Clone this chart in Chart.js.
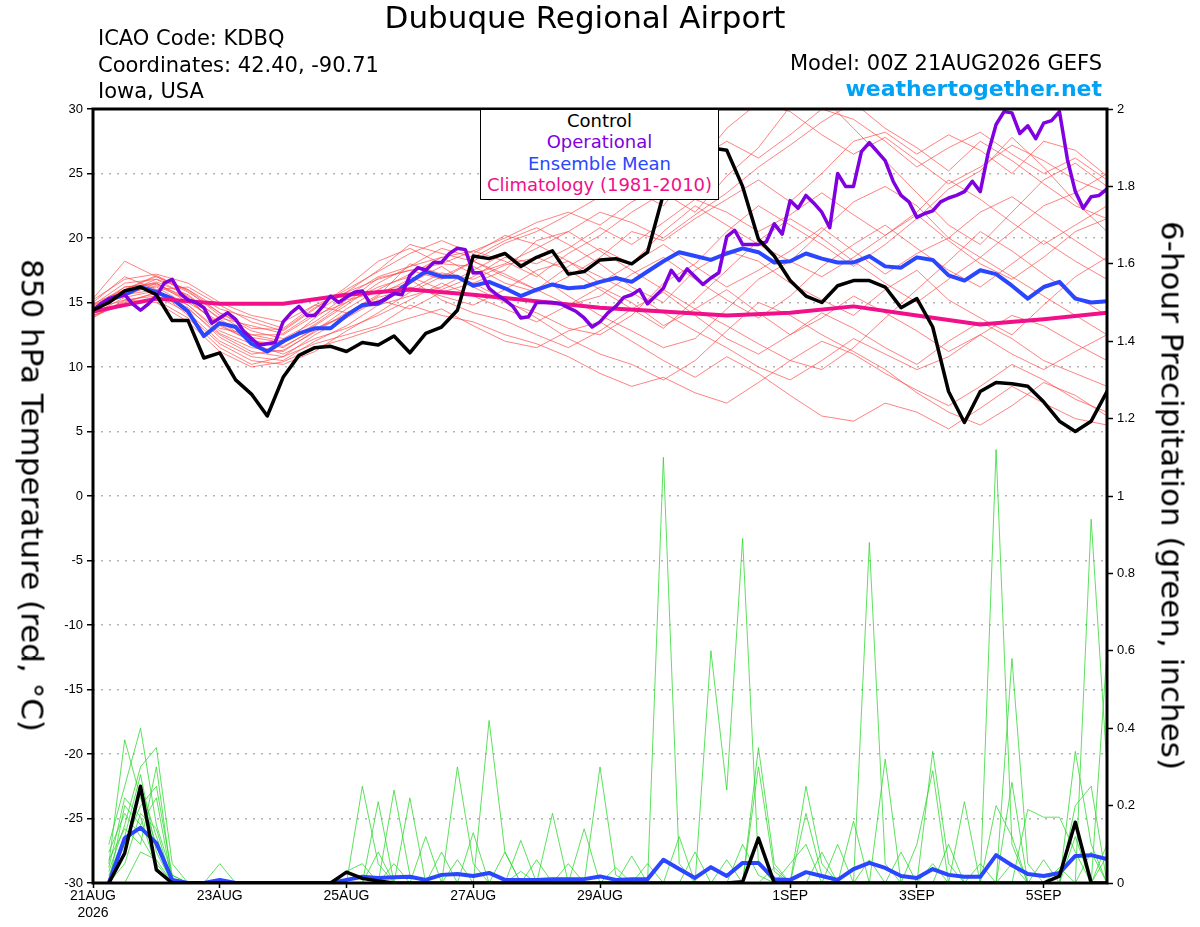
<!DOCTYPE html>
<html>
<head>
<meta charset="utf-8">
<title>Dubuque Regional Airport</title>
<script src="https://cdn.jsdelivr.net/npm/chart.js@4.4.1/dist/chart.umd.min.js"></script>
<style>
  body { margin: 0; background: #fff; }
  #wrap { position: relative; width: 1200px; height: 927px; overflow: hidden; }
  #wrap canvas { position: absolute; left: 0; top: 0; }
  .txt { position: absolute; font-family: "DejaVu Sans", sans-serif; line-height: 1; white-space: nowrap; color: #000; }
  #legendBox { position: absolute; left: 480px; top: 109px; width: 239px; height: 91px; box-sizing: border-box;
               border: 1.5px solid #000; background: #fff; }
  #legendBox div { position: absolute; left: 0; width: 100%; text-align: center; font-family: "DejaVu Sans", sans-serif;
                   font-size: 18px; line-height: 1; white-space: nowrap; }
  .vtitle { position: absolute; width: 700px; height: 31px; font-family: "DejaVu Sans", sans-serif; font-size: 31px;
            line-height: 31px; text-align: center; white-space: nowrap; transform: rotate(90deg); transform-origin: 50% 50%; }
</style>
</head>
<body>
<div id="wrap">
  <canvas id="meteogram" width="1200" height="927"></canvas>

  <div class="txt" style="left:0;width:1170px;text-align:center;top:2px;font-size:31px;">Dubuque Regional Airport</div>
  <div class="txt" style="left:98px;top:28px;font-size:21px;">ICAO Code: KDBQ</div>
  <div class="txt" style="left:98px;top:55px;font-size:21px;">Coordinates: 42.40, -90.71</div>
  <div class="txt" style="left:98px;top:81px;font-size:21px;">Iowa, USA</div>
  <div class="txt" style="right:98px;top:53px;font-size:21px;">Model: 00Z 21AUG2026 GEFS</div>
  <div class="txt" style="right:98px;top:78px;font-size:22px;font-weight:bold;color:#00a2f5;">weathertogether.net</div>

  <div id="legendBox">
    <div style="top:1.5px;color:#000;">Control</div>
    <div style="top:22.5px;color:#8000e0;">Operational</div>
    <div style="top:44.5px;color:#2a46ff;">Ensemble Mean</div>
    <div style="top:65.5px;color:#f0108a;">Climatology (1981-2010)</div>
  </div>

  <div class="vtitle" style="left:-318px;top:480px;">850 hPa Temperature (red, °C)</div>
  <div class="vtitle" style="left:822px;top:480px;">6-hour Precipitation (green, inches)</div>
</div>

<script>
// axis ticks (hours since 00Z 21AUG2026)
const xTickHours = [0, 48, 96, 144, 192, 264, 312, 360];
const xTickLabels = [['21AUG', '2026'], '23AUG', '25AUG', '27AUG', '29AUG', '1SEP', '3SEP', '5SEP'];
const tempTicks = [-30, -25, -20, -15, -10, -5, 0, 5, 10, 15, 20, 25, 30];
const precipTicks = [0, 0.2, 0.4, 0.6, 0.8, 1, 1.2, 1.4, 1.6, 1.8, 2];

// 850 hPa temperature, 6-hourly
const controlTemp = [14.4, 15.0, 15.9, 16.2, 15.6, 13.6, 13.6, 10.7, 11.1, 9.0, 7.9, 6.2, 9.2, 10.9, 11.5, 11.6, 11.2,
  11.9, 11.7, 12.4, 11.1, 12.6, 13.1, 14.4, 18.6, 18.4, 18.8, 17.8, 18.5, 19.0, 17.2, 17.4, 18.3, 18.4,
  18.0, 18.9, 23.4, 25.8, 27.3, 27.0, 26.8, 24.0, 19.9, 18.6, 16.7, 15.5, 15.0, 16.3, 16.7,
  16.7, 16.2, 14.6, 15.3, 13.1, 8.1, 5.7, 8.1, 8.8, 8.7, 8.5, 7.3, 5.8, 5.0, 5.8, 8.1];
const meanTemp = [14.4, 15.2, 15.6, 16.2, 15.8, 15.3, 14.3, 12.4, 13.4, 13.1, 11.8, 11.2, 12.0, 12.6, 13.0, 13.0, 14.0,
  14.8, 14.9, 15.7, 16.6, 17.4, 17.0, 17.0, 16.3, 16.6, 16.1, 15.5, 16.0, 16.4, 16.1, 16.2, 16.6, 16.9,
  16.6, 17.4, 18.2, 18.9, 18.6, 18.3, 18.8, 19.2, 18.9, 18.1, 18.2, 18.8, 18.4, 18.1, 18.1,
  18.6, 17.8, 17.7, 18.5, 18.3, 17.1, 16.7, 17.5, 17.2, 16.3, 15.3, 16.2, 16.6, 15.3, 15.0, 15.1];
// operational run, 3-hourly
const operTemp = [14.4, 14.9, 15.3, 15.5, 15.6, 14.9, 14.4, 14.9, 15.5, 16.5,
  16.8, 15.7, 15.2, 15.0, 14.6, 13.4, 13.8, 14.2, 13.7, 12.8,
  12.2, 11.7, 11.8, 11.9, 13.5, 14.2, 14.7, 14.0, 14.0, 14.7,
  15.5, 15.0, 15.4, 15.8, 15.9, 14.9, 15.0, 15.3, 15.7, 15.6,
  17.1, 17.7, 17.5, 18.1, 18.1, 18.8, 19.2, 19.1, 17.3, 17.3,
  16.1, 15.6, 15.2, 14.7, 13.8, 13.9, 15.0, 15.0, 15.0, 14.9,
  14.6, 14.3, 13.8, 13.1, 13.5, 14.2, 14.7, 15.4, 15.6, 16.0,
  14.9, 15.5, 16.1, 17.5, 16.7, 17.6, 17.0, 16.4, 16.9, 17.3,
  20.1, 20.6, 19.5, 19.5, 19.5, 19.7, 21.1, 20.3, 22.9, 22.3,
  23.3, 22.7, 22.0, 20.8, 25.0, 24.0, 24.0, 26.7, 27.4, 26.7,
  26.0, 24.4, 23.3, 22.8, 21.6, 21.9, 22.1, 22.8, 23.1, 23.3,
  23.6, 24.4, 23.6, 26.6, 28.8, 29.8, 29.7, 28.1, 28.7, 27.7,
  28.9, 29.1, 29.8, 26.1, 23.6, 22.3, 23.2, 23.3, 23.8];
// climatology, daily
const climTemp = [14.3, 15.3, 14.9, 14.9, 15.6, 16.0, 15.6, 15.1, 14.6, 14.3, 14.0, 14.2, 14.7, 14.0, 13.3, 13.7, 14.2];

// ensemble members, 12-hourly
const t01 = [14.8,16.5,16.8,15.5,13.8,13.2,12.6,14.2,15.8,17.5,19.5,18.8,18.2,19.6,20.5,21.8,23.2,23.8,22.5,25.5,28.5,30.5,29.8,28.0,26.5,27.8,26.0,24.2,25.5,27.2,26.0,24.5,23.5];
const t02 = [14.2,15.8,16.2,14.8,12.6,11.5,11.2,12.8,14.5,16.0,17.2,18.5,19.0,18.2,17.0,18.8,20.2,22.0,23.5,22.0,24.8,27.0,30.2,31.0,28.5,26.0,23.5,21.0,19.5,22.0,24.5,25.8,24.0];
const t03 = [14.6,16.0,17.0,15.8,14.2,12.8,12.2,13.5,15.2,15.8,16.5,17.8,16.2,15.0,14.2,13.0,12.5,14.0,16.5,18.0,20.5,22.5,21.0,19.5,17.8,19.5,21.5,23.8,25.2,27.8,25.5,22.8,20.5];
const t04 = [13.8,15.2,15.5,14.2,12.0,10.8,10.5,12.0,13.2,14.8,15.5,16.2,17.5,18.8,17.2,15.5,14.0,12.8,11.5,12.2,14.5,16.8,18.2,20.5,22.8,24.0,22.5,20.0,18.5,17.0,15.5,14.0,12.5];
const t05 = [14.5,15.5,16.5,15.0,13.5,12.0,11.5,13.0,14.0,15.5,18.0,17.2,16.5,17.5,19.8,20.5,19.0,17.5,16.0,14.5,13.2,11.8,10.5,9.8,11.5,13.8,16.0,18.2,20.5,19.0,17.2,15.5,14.0];
const t06 = [15.0,17.0,16.0,16.2,14.8,13.5,12.8,14.5,16.2,18.2,19.2,18.0,17.8,16.5,15.8,17.0,18.5,20.5,19.8,21.5,23.0,24.5,22.8,25.0,27.5,28.2,26.5,28.0,26.8,25.0,27.5,26.8,24.8];
const t07 = [14.0,15.0,15.8,14.5,12.5,11.2,10.8,11.8,12.5,13.2,14.8,14.0,13.5,12.5,11.8,10.8,9.5,8.5,9.2,8.0,7.2,8.8,10.5,12.0,11.0,9.5,8.2,7.0,8.5,10.2,9.0,7.5,6.5];
const t08 = [14.4,16.2,16.5,15.2,13.2,12.0,11.8,13.8,15.5,17.0,17.8,19.2,18.5,19.8,20.8,19.5,18.0,16.2,15.0,17.5,19.0,18.2,16.5,15.2,14.0,16.0,17.5,15.2,13.8,12.5,14.8,17.0,18.5];
const t09 = [14.8,15.8,16.8,16.0,14.5,13.8,13.0,14.8,14.2,15.0,16.2,15.5,14.8,16.0,17.5,18.2,17.0,15.8,14.2,12.8,11.5,10.0,9.0,10.5,12.2,11.0,9.8,10.8,12.5,14.0,13.2,11.8,10.5];
const t10 = [14.3,15.6,16.0,14.0,11.8,10.5,10.2,11.2,12.8,14.2,15.8,17.0,18.2,17.0,16.0,17.8,19.2,18.0,20.5,22.5,21.0,19.5,18.2,17.0,18.5,20.2,21.8,19.8,18.0,16.8,18.5,20.5,21.5];
const t11 = [15.2,16.8,17.2,16.5,15.0,14.0,13.5,14.8,15.8,16.8,17.5,16.8,18.2,17.2,16.0,14.8,15.5,17.2,18.5,16.8,15.2,13.8,15.5,17.8,19.5,21.0,19.2,17.5,16.2,18.0,19.8,18.2,16.8];
const t12 = [14.0,14.8,15.2,13.8,11.5,10.2,10.8,12.5,13.8,15.2,14.5,15.8,16.5,15.2,13.8,12.2,11.0,10.2,9.0,10.5,12.8,15.0,14.0,12.5,11.2,9.8,8.0,6.5,5.5,7.0,8.8,7.8,6.2];
const t13 = [14.7,16.2,16.4,15.4,13.0,12.5,12.0,13.2,14.8,16.5,17.8,18.5,17.2,18.0,19.2,20.5,22.0,21.2,20.0,21.8,23.5,25.5,27.2,29.0,30.5,28.5,27.0,25.2,27.5,26.0,24.2,22.5,21.5];
const t14 = [14.1,15.4,15.9,14.8,12.8,11.8,11.0,12.2,13.0,14.0,15.2,16.5,15.5,14.5,13.5,14.8,16.2,15.0,13.2,14.5,16.0,14.2,12.5,13.8,15.5,14.2,12.8,11.2,12.5,11.0,9.8,11.2,12.5];
const t15 = [14.9,16.0,17.1,15.9,14.0,12.5,12.5,14.0,15.0,16.2,17.0,16.0,17.0,18.5,18.0,19.2,20.8,19.5,21.2,23.0,22.0,20.5,21.8,23.5,21.8,20.2,22.0,24.5,23.0,21.2,19.5,21.0,22.5];
const t16 = [14.5,15.2,15.0,13.5,11.2,10.0,10.4,11.5,12.2,13.0,13.8,14.5,13.2,12.0,11.5,12.8,13.5,12.0,10.5,9.2,10.8,9.5,7.8,6.2,5.8,7.2,6.5,5.2,6.8,8.5,7.2,6.0,5.5];
const t17 = [14.6,15.9,16.6,15.6,13.7,12.3,11.9,13.3,15.0,16.9,17.5,18.0,19.0,20.0,21.2,22.0,21.0,22.8,24.0,26.0,27.5,26.2,28.0,30.0,29.2,27.5,25.5,27.0,28.2,26.5,25.0,26.2,24.5];
const t18 = [13.9,15.1,15.7,14.6,12.3,11.0,11.3,12.7,14.2,15.6,16.8,15.2,14.2,13.6,12.5,11.5,12.8,14.5,15.8,14.0,12.2,11.0,12.5,14.2,13.0,11.5,10.2,12.0,13.5,12.2,10.5,9.5,8.5];
const t19 = [15.3,18.2,17.0,16.0,14.2,13.0,12.9,14.6,16.0,17.4,18.8,19.8,18.8,20.2,19.5,18.2,16.5,18.0,19.5,17.8,16.2,17.5,19.0,20.8,19.0,17.2,18.8,20.0,22.0,23.2,21.5,19.8,18.2];
const t20 = [14.4,15.7,16.3,15.2,13.3,12.0,11.6,12.9,14.0,15.4,16.0,17.3,16.8,17.9,18.5,17.5,16.0,14.5,13.0,15.2,17.5,19.8,21.5,20.0,18.2,16.5,15.0,16.8,18.5,20.5,22.5,23.5,25.0];
const tempMembers = [t01, t02, t03, t04, t05, t06, t07, t08, t09, t10, t11, t12, t13, t14, t15, t16, t17, t18, t19, t20];

// 6-hour precipitation (inches), 6-hourly, no value at hour 0
const controlPrecip = [null, 0,.077,.25,.034, 0,0,0,0, 0,0,0,0, 0,0,0,.028, .012,.005,0,0, 0,0,0,0, 0,0,0,0, 0,0,0,0,
  0,0,0,0, 0,0,0,0, .003,.116,0,0, 0,0,0,0, 0,0,0,0, 0,0,0,0, 0,0,0,0, .018,.157,0,0];
const meanPrecip = [null, 0,.116,.143,.103, .008,0,0,.008, 0,0,0,0, 0,0,0,.008, .016,.013,.015,.016, .008,.021,.023,.018,
  .026,.008,.008,.008, .01,.01,.01,.017, .008,.01,.01,.06, .036,.013,.041,.018, .052,.052,.01,.008, .028,.018,.008,.036,
  .052,.039,.018,.013, .036,.021,.016,.016, .072,.046,.023,.018, .026,.07,.072,.062];
const p01 = [null, .10,.25,.40,.15, .02,0,0,0, 0,0,0,0, 0,0,0,0, 0,.21,0,0, 0,0,0,0, 0,0,0,0, 0,0,0,0, 0,0,0,1.10, .05,0,0,0, 0,0,0,0, 0,0,0,0, 0,0,0,0, .05,0,0,0, 0,0,0,0, 0,.34,.10,0];
const p02 = [null, .05,.37,.22,.10, 0,0,0,0, 0,0,0,0, 0,0,0,0, 0,0,0,0, 0,0,.30,.05, 0,0,0,0, 0,0,0,0, 0,0,0,0, 0,0,.60,.24, .89,.05,0,0, 0,0,0,0, 0,0,0,0, 0,0,0,0, 0,.05,0,0, 0,0,0,0];
const p03 = [null, .03,.15,.30,.35, .05,0,0,0, 0,0,0,0, 0,0,0,0, .25,.05,0,0, 0,0,0,0, 0,0,0,0, 0,0,0,.30, .02,0,0,0, 0,0,0,0, 0,0,0,0, 0,0,0,0, .88,.05,0,0, 0,0,0,0, 0,0,0,0, 0,0,0,.60];
const p04 = [null, 0,.10,.20,.25, .02,0,0,0, 0,0,0,0, 0,0,0,0, 0,0,0,0, 0,0,0,0, .42,.08,0,0, 0,0,0,0, 0,0,0,0, 0,0,0,0, 0,.35,.05,0, 0,0,0,0, 0,0,0,0, 0,0,0,0, 1.12,.10,0,0, 0,0,0,0];
const p05 = [null, .02,.12,.28,.08, 0,0,0,.05, 0,0,0,0, 0,0,0,0, 0,0,.24,.02, 0,0,0,0, 0,0,0,0, .18,0,0,0, 0,0,0,0, 0,0,0,0, 0,0,0,0, .25,.05,0,0, 0,0,0,0, 0,0,0,0, 0,.58,.05,0, 0,0,0,0];
const p06 = [null, 0,.20,.15,.22, 0,0,0,0, 0,0,0,0, 0,0,0,0, 0,0,0,.22, 0,0,0,0, 0,0,.11,0, 0,0,0,0, 0,0,0,0, 0,0,0,0, 0,.30,.03,0, 0,0,0,0, 0,.32,0,0, 0,0,0,0, 0,0,0,0, 0,0,.94,.30];
const p07 = [null, .08,.18,.12,.05, 0,0,0,0, 0,0,0,0, 0,0,0,.03, .05,0,0,0, 0,0,0,.13, 0,0,0,0, 0,0,.14,0, 0,0,0,0, 0,0,0,0, 0,0,0,0, .18,.02,0,0, 0,0,0,0, .34,.05,0,0, 0,0,.19,.17, .17,.08,0,0];
const p08 = [null, 0,.08,.25,.12, 0,0,0,0, 0,0,0,0, 0,0,0,0, 0,0,0,0, 0,.08,0,0, 0,.08,0,0, 0,0,0,0, 0,0,.05,0, 0,0,0,0, .10,.02,0,0, 0,0,0,.16, 0,0,0,0, 0,0,.21,0, 0,0,0,0, 0,.20,.25,0];
const p09 = [null, .06,.14,.10,.30, 0,0,0,0, 0,0,0,0, 0,0,0,0, 0,0,0,0, .12,0,0,0, 0,0,0,0, 0,.05,0,0, 0,0,0,0, 0,.08,0,0, 0,0,0,0, 0,0,.10,0, 0,0,0,.10, .29,0,0,0, 0,.26,0,0, 0,0,0,.10];
const p10 = [null, 0,.05,.18,.14, 0,0,0,0, 0,0,0,0, 0,0,0,0, 0,.08,0,0, 0,0,0,0, 0,0,0,.06, 0,0,0,0, 0,0,0,0, .12,0,0,0, 0,0,0,.05, .10,0,0,0, 0,0,.08,0, 0,0,0,0, .20,.12,0,0, 0,.12,0,0];
const p11 = [null, 0,0,.08,.06, 0,0,0,0, 0,0,0,0, 0,0,0,0, 0,0,0,0, 0,0,.06,0, 0,0,0,0, 0,0,0,0, .04,0,0,0, 0,0,0,.06, 0,0,0,0, 0,.08,0,0, 0,0,0,0, 0,.10,0,0, 0,0,0,.06, 0,0,.08,0];
const p12 = [null, .04,.22,.17,.04, 0,0,0,0, 0,0,0,0, 0,0,0,0, 0,0,.05,0, 0,0,0,0, 0,0,.03,0, 0,0,0,0, 0,.07,0,0, 0,0,0,0, 0,0,.04,0, 0,0,0,0, .06,0,0,0, 0,0,0,.05, 0,0,0,0, .04,0,0,.07];
const precipMembers = [p01, p02, p03, p04, p05, p06, p07, p08, p09, p10, p11, p12];

// pair each value with its forecast hour
function withHours(values, stepHours) {
    return values.map((v, i) => ({ x: i * stepHours, y: v }));
}

function line(label, values, step, color, width, axis, order) {
    return {
        label: label,
        data: withHours(values, step),
        borderColor: color,
        borderWidth: width,
        yAxisID: axis,
        order: order,
        pointRadius: 0,
        spanGaps: false
    };
}

const datasets = [];
datasets.push(line('Control', controlTemp, 6, '#000000', 3.5, 'y', 0));
datasets.push(line('Operational', operTemp, 3, '#8000e0', 3.5, 'y', 1));
datasets.push(line('Climatology (1981-2010)', climTemp, 24, '#f0108a', 4, 'y', 2));
datasets.push(line('Ensemble Mean', meanTemp, 6, '#2a46ff', 4, 'y', 3));
datasets.push(line('Control precip', controlPrecip, 6, '#000000', 3.5, 'y1', 0));
datasets.push(line('Ensemble Mean precip', meanPrecip, 6, '#2a46ff', 4, 'y1', 1));
tempMembers.forEach((m, i) => datasets.push(line('member ' + (i + 1), m, 12, 'rgba(255,70,70,0.85)', 0.8, 'y', 10)));
precipMembers.forEach((m, i) => datasets.push(line('member precip ' + (i + 1), m, 6, 'rgba(40,215,40,0.95)', 0.8, 'y1', 10)));

// thick black frame around the plot
const frame = {
    id: 'frame',
    afterDatasetsDraw(chart) {
        const { ctx, chartArea: a } = chart;
        ctx.save();
        ctx.strokeStyle = '#000';
        ctx.lineWidth = 3;
        ctx.strokeRect(a.left, a.top, a.right - a.left, a.bottom - a.top);
        ctx.restore();
    }
};

const tickFont = { family: 'Liberation Sans', size: 13 };

new Chart(document.getElementById('meteogram'), {
    type: 'line',
    data: { datasets: datasets },
    plugins: [frame],
    options: {
        responsive: false,
        animation: false,
        events: [],
        layout: { padding: { top: 109, left: 0, right: 0, bottom: 0 } },
        elements: { line: { tension: 0, borderJoinStyle: 'round', borderCapStyle: 'round' } },
        plugins: {
            legend: { display: false },
            tooltip: { enabled: false },
            title: { display: false }
        },
        scales: {
            x: {
                type: 'linear',
                min: 0,
                max: 384,
                afterBuildTicks: s => { s.ticks = xTickHours.map(v => ({ value: v })); },
                afterFit: s => { s.height = 44; },
                grid: { drawOnChartArea: false, tickLength: 5, tickColor: '#000', tickWidth: 1.5 },
                border: { display: false },
                ticks: {
                    autoSkip: false,
                    maxRotation: 0,
                    color: '#000',
                    padding: 0,
                    font: { family: 'Liberation Sans', size: 14 },
                    callback: v => {
                        const k = xTickHours.indexOf(v);
                        return k < 0 ? '' : xTickLabels[k];
                    }
                }
            },
            y: {
                position: 'left',
                min: -30,
                max: 30,
                afterBuildTicks: s => { s.ticks = tempTicks.map(v => ({ value: v })); },
                afterFit: s => { s.width = 93; },
                grid: { color: '#b4b4b4', lineWidth: 1.5, tickColor: '#000', tickLength: 6, tickWidth: 1.5 },
                border: { display: false, dash: [2, 6] },
                ticks: { color: '#000', padding: 4, font: tickFont }
            },
            y1: {
                position: 'right',
                min: 0,
                max: 2,
                afterBuildTicks: s => { s.ticks = precipTicks.map(v => ({ value: v })); },
                afterFit: s => { s.width = 93; },
                grid: { drawOnChartArea: false, tickColor: '#000', tickLength: 6, tickWidth: 1.5 },
                border: { display: false },
                ticks: {
                    color: '#000',
                    padding: 4,
                    font: tickFont,
                    callback: v => String(Math.round(v * 10) / 10)
                }
            }
        }
    }
});
</script>
</body>
</html>
